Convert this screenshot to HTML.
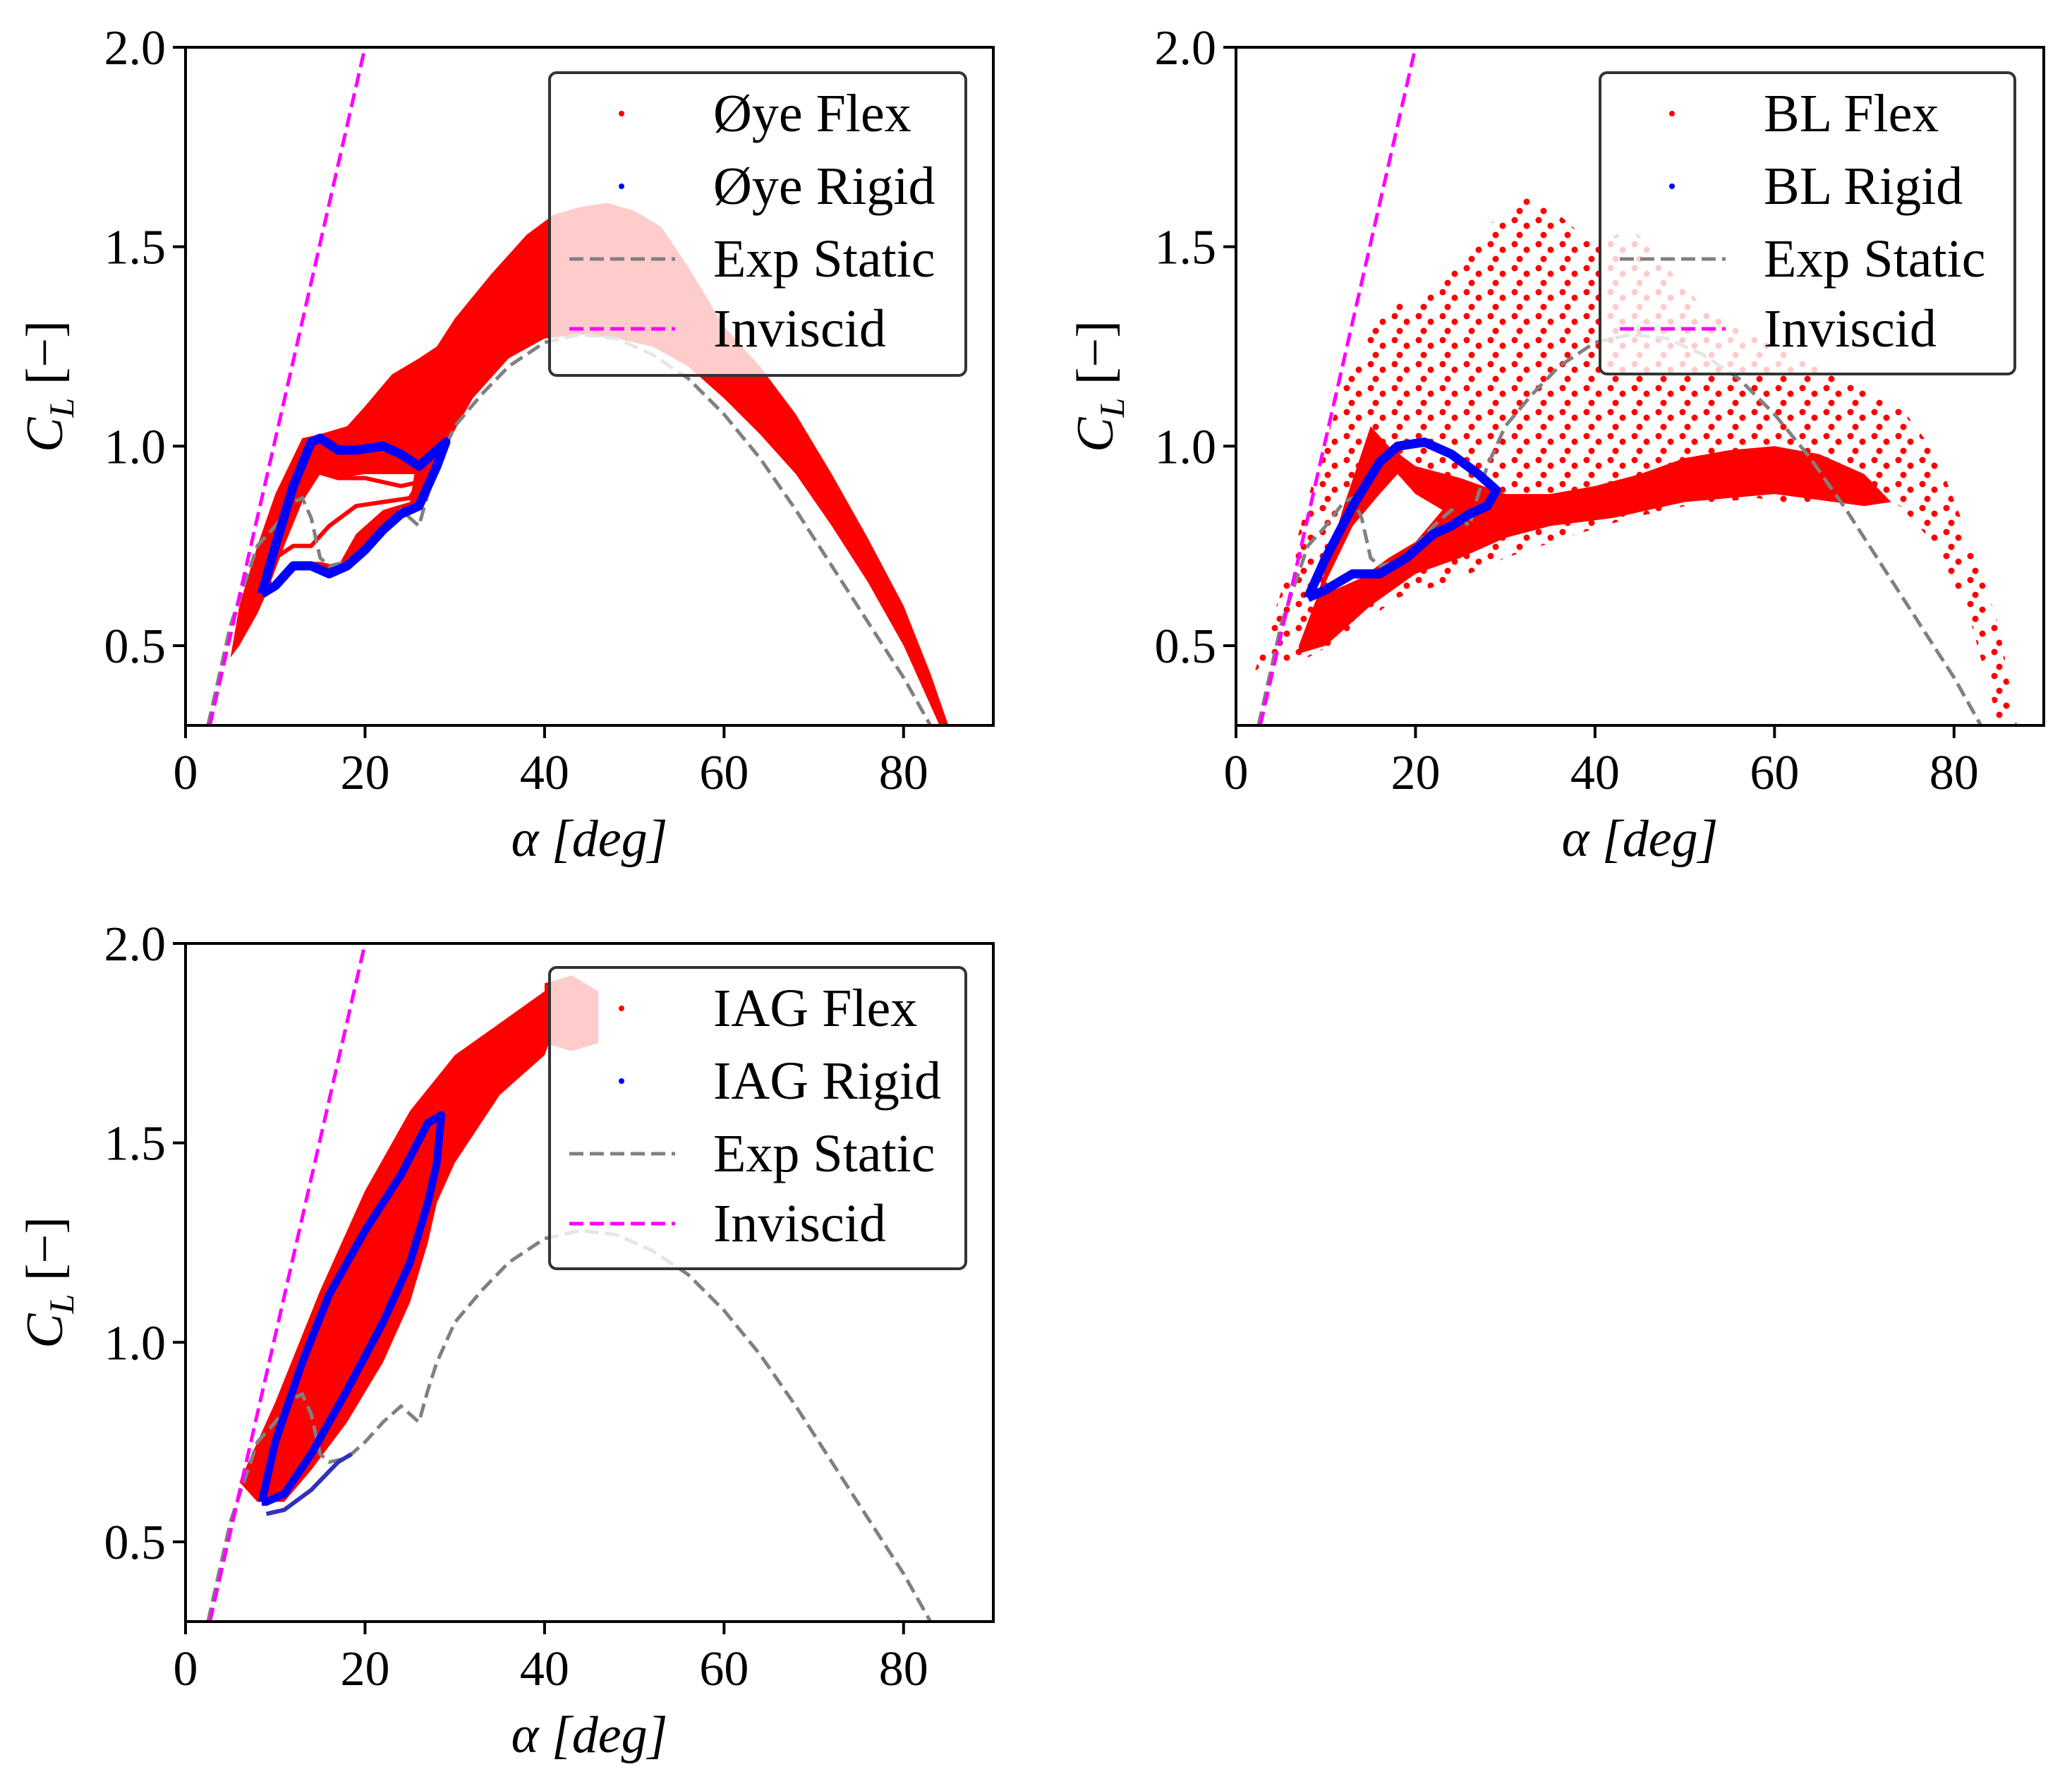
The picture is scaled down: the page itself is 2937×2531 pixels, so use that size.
<!DOCTYPE html>
<html><head><meta charset="utf-8"><style>
html,body{margin:0;padding:0;background:#fff}
svg{display:block}
text{font-family:"Liberation Serif","DejaVu Serif",serif;fill:#000}
</style></head><body>
<svg id="fig" width="2937" height="2531" viewBox="0 0 2937 2531" xmlns="http://www.w3.org/2000/svg">
<defs>
<pattern id="sparse" width="34" height="34" patternUnits="userSpaceOnUse">
<circle cx="5" cy="6" r="4.5" fill="#ff0000"/><circle cx="22" cy="14" r="4.5" fill="#ff0000"/><circle cx="12" cy="27" r="4.5" fill="#ff0000"/>
</pattern>
</defs>
</svg>
<script>
// ---------- shared data ----------
const xTicks=[0,20,40,60,80];
const yTicks=[0.5,1.0,1.5,2.0];
const yTickLabels=["0.5","1.0","1.5","2.0"];
const expAlpha=[2.5,5,8,10,12,13,14,15,16,18,20,22,24,26,27,28,30,33,36,40,44,48,52,56,60,64,68,72,76,80,83];
const expCL=[0.3,0.55,0.75,0.8,0.86,0.87,0.82,0.72,0.7,0.71,0.75,0.8,0.84,0.8,0.88,0.95,1.05,1.13,1.2,1.26,1.28,1.27,1.23,1.17,1.08,0.97,0.84,0.7,0.56,0.42,0.3];
const invAlpha=[2.7,20];
const invCL=[0.3,2.0];
// Oye
const oyeFlexAlpha=[5,6,8,10,13,15,18,20,23,26,28,30,34,38,41,44,47,50,53,56,60,64,68,72,76,80,83,85,84,80,76,72,68,64,60,56,52,48,44,40,36,32,29,27,25,22,19,16,13,10,8,6];
const oyeFlexCL=[0.47,0.6,0.75,0.88,1.02,1.03,1.05,1.1,1.18,1.22,1.25,1.32,1.43,1.53,1.58,1.6,1.61,1.59,1.55,1.45,1.3,1.2,1.08,0.93,0.77,0.6,0.43,0.3,0.3,0.5,0.66,0.8,0.93,1.03,1.12,1.2,1.25,1.27,1.28,1.27,1.22,1.12,1.0,0.88,0.84,0.8,0.72,0.68,0.7,0.68,0.58,0.5];
const oyeHoleAlpha=[9.5,11,13,15,17,20,23,25.5,25,22,19,17,15,13,11];
const oyeHoleCL=[0.66,0.75,0.86,0.93,0.92,0.93,0.93,0.93,0.86,0.84,0.78,0.7,0.71,0.71,0.69];
const oyeInnerAlpha=[10,12,14,17,20,24,26,25,22,19,16,14,12,10];
const oyeInnerCL=[0.72,0.84,0.94,0.92,0.92,0.9,0.91,0.87,0.86,0.85,0.8,0.75,0.75,0.72];
const oyeRigidAlpha=[8.5,10,12,14,15,17,19,22,24,26,28,29,28,27,26,24,22,20,18,16,14,12,10,8.5];
const oyeRigidCL=[0.63,0.75,0.9,1.01,1.02,0.99,0.99,1.0,0.98,0.95,0.99,1.01,0.95,0.9,0.85,0.83,0.79,0.74,0.7,0.68,0.7,0.7,0.65,0.63];
// BL
const blSparseAlpha=[2,6,9,12,15,17,20,24,28,32,36,40,44,48,52,56,60,65,70,74,78,82,85,87,85,82,78,74,70,64,58,50,44,38,30,24,18,12,8,3];
const blSparseCL=[0.43,0.7,0.95,1.15,1.3,1.38,1.35,1.45,1.55,1.63,1.58,1.5,1.55,1.45,1.35,1.3,1.25,1.2,1.15,1.1,0.98,0.75,0.55,0.3,0.3,0.55,0.75,0.85,0.88,0.85,0.87,0.85,0.82,0.78,0.72,0.66,0.62,0.52,0.47,0.45];
const blDenseAlpha=[7,9,12,15,17,20,25,30,35,40,45,50,55,60,65,70,73,70,60,50,42,35,30,25,20,15,10,7];
const blDenseCL=[0.5,0.62,0.85,1.05,1.0,0.95,0.92,0.88,0.88,0.9,0.93,0.97,0.99,1.0,0.98,0.93,0.86,0.85,0.88,0.86,0.82,0.8,0.77,0.72,0.68,0.6,0.5,0.48];
const blHoleAlpha=[10,13,16,18,20,23,20,17,14,11];
const blHoleCL=[0.66,0.8,0.88,0.93,0.88,0.84,0.76,0.72,0.67,0.64];
const blRigidAlpha=[8,10,13,16,18,21,24,27,29,28,26,24,22,19,16,13,10,8];
const blRigidCL=[0.62,0.72,0.85,0.96,1.0,1.01,0.98,0.93,0.89,0.85,0.83,0.8,0.78,0.72,0.68,0.68,0.64,0.62];
// IAG
const iagFlexAlpha=[6,10,15,20,25,30,35,40,43,40,35,30,28,27,25,22,18,14,11,8];
const iagFlexCL=[0.65,0.85,1.13,1.38,1.58,1.72,1.8,1.88,1.9,1.72,1.62,1.45,1.35,1.25,1.1,0.95,0.8,0.68,0.6,0.6];
const iagBlobAlpha=[40,43,46,46,43,40];
const iagBlobCL=[1.9,1.92,1.88,1.75,1.73,1.75];
const iagRigidAlpha=[8.5,10,13,16,20,24,27,28.5,28,27,25,22,18,14,11,9,8.5];
const iagRigidCL=[0.6,0.75,0.95,1.12,1.28,1.42,1.55,1.57,1.45,1.35,1.2,1.05,0.88,0.72,0.62,0.6,0.6];
const iagTailAlpha=[9,11,14,17,18.5];
const iagTailCL=[0.57,0.58,0.63,0.7,0.72];

const NS="http://www.w3.org/2000/svg";
const svg=document.getElementById('fig');
function mk(tag,attrs,parent){const e=document.createElementNS(NS,tag);for(const k in attrs)e.setAttribute(k,attrs[k]);(parent||svg).appendChild(e);return e;}

function panel(id,L,T){
  const W=1145,H=961;
  const sx=a=>L+a*(W/90);
  const sy=c=>T+H-(c-0.3)*(H/1.7);
  const g=mk('g',{});
  
  
  const pts=(A,C)=>A.map((a,i)=>sx(a).toFixed(1)+','+sy(C[i]).toFixed(1)).join(' ');
  const clipId=id+'clip';
  const cp=mk('clipPath',{id:clipId},g);mk('rect',{x:L,y:T,width:W,height:H},cp);
  const plot=mk('g',{'clip-path':'url(#'+clipId+')'},g);
  return {g,plot,sx,sy,pts,L,T,W,H};
}
function axes(P){
  const {g,sx,sy,L,T,W,H}=P;
  xTicks.forEach(v=>{
    const t=mk('line',{x1:sx(v),x2:sx(v),y1:T+H,y2:T+H+18,stroke:'#000','stroke-width':4},g);
    
    const l=mk('text',{x:sx(v),y:T+H+90,'font-size':70,'text-anchor':'middle'},g);l.textContent=String(v);
    
  });
  yTicks.forEach((v,i)=>{
    const t=mk('line',{x1:L-18,x2:L,y1:sy(v),y2:sy(v),stroke:'#000','stroke-width':4},g);
    
    const l=mk('text',{x:L-28,y:sy(v)+24,'font-size':70,'text-anchor':'end'},g);l.textContent=yTickLabels[i];
    
  });
  const fr=mk('rect',{x:L,y:T,width:W,height:H,fill:'none',stroke:'#000','stroke-width':4},g);
  
  const xl=mk('text',{x:L+W/2,y:T+H+185,'font-size':74,'text-anchor':'middle','font-style':'italic'},g);
  xl.textContent='α [deg]';
  
  const yl=mk('text',{x:0,y:0,'font-size':74,'text-anchor':'middle',transform:'translate('+(L-175)+','+(T+H/2)+') rotate(-90)'},g);
  yl.innerHTML='<tspan font-style="italic">C</tspan><tspan font-style="italic" font-size="50" dy="16">L</tspan><tspan dy="-16"> [−]</tspan>';
  
}
function curves(P){
  const e=mk('polyline',{points:P.pts(expAlpha,expCL),fill:'none',stroke:'#808080','stroke-width':5,'stroke-dasharray':'20,9'},P.plot);
  
  const v=mk('polyline',{points:P.pts(invAlpha,invCL),fill:'none',stroke:'#ff00ff','stroke-width':5,'stroke-dasharray':'20,9'},P.plot);
  
}
function poly(P,A,C,fill,name){
  const p=mk('polygon',{points:P.pts(A,C),fill:fill},P.plot);
  return p;
}
function line(P,A,C,stroke,w,name){
  const p=mk('polyline',{points:P.pts(A,C),fill:'none',stroke:stroke,'stroke-width':w,'stroke-linejoin':'round'},P.plot);
  return p;
}
function legend(P,x,y,w,h,labels){
  const lg=mk('g',{},P.g);
  
  mk('rect',{x:x,y:y,width:w,height:h,rx:10,fill:'#fff','fill-opacity':0.8,stroke:'#333','stroke-width':4},lg);
  const rows=[y+58,y+161,y+264,y+363];
  const kinds=[['dot','#ff0000'],['dot','#0000ff'],['line','#808080'],['line','#ff00ff']];
  rows.forEach((ry,i)=>{
    const ent=mk('g',{},lg);
    
    if(kinds[i][0]==='dot')mk('circle',{cx:x+102,cy:ry,r:4,fill:kinds[i][1]},ent);
    else mk('line',{x1:x+28,x2:x+178,y1:ry,y2:ry,stroke:kinds[i][1],'stroke-width':5,'stroke-dasharray':'20,9'},ent);
    const t=mk('text',{x:x+232,y:ry+25,'font-size':76},ent);t.textContent=labels[i];
  });
}

// Panel 1 Oye
const P1=panel('oye',263,67);
poly(P1,oyeFlexAlpha,oyeFlexCL,'#ff0000','oye-flex-cloud');
poly(P1,oyeHoleAlpha,oyeHoleCL,'#ffffff','oye-flex-hole');
line(P1,oyeInnerAlpha,oyeInnerCL,'#ff0000',6,'oye-flex-inner-loop');
curves(P1);
line(P1,oyeRigidAlpha,oyeRigidCL,'#0000ff',13,'oye-rigid-loop');
axes(P1);
legend(P1,779,103,590,429,['Øye Flex','Øye Rigid','Exp Static','Inviscid']);

// Panel 2 BL
const P2=panel('bl',1752,67);
poly(P2,blSparseAlpha,blSparseCL,'url(#sparse)','bl-flex-sparse-cloud');
poly(P2,blDenseAlpha,blDenseCL,'#ff0000','bl-flex-dense-band');
poly(P2,blHoleAlpha,blHoleCL,'#ffffff','bl-flex-hole');
curves(P2);
line(P2,blRigidAlpha,blRigidCL,'#0000ff',13,'bl-rigid-loop');
axes(P2);
legend(P2,2268,103,588,427,['BL Flex','BL Rigid','Exp Static','Inviscid']);

// Panel 3 IAG
const P3=panel('iag',263,1337);
poly(P3,iagFlexAlpha,iagFlexCL,'#ff0000','iag-flex-cloud');
poly(P3,iagBlobAlpha,iagBlobCL,'#ff0000','iag-flex-blob');
curves(P3);
line(P3,iagRigidAlpha,iagRigidCL,'#0000ff',11,'iag-rigid-loop');
line(P3,iagTailAlpha,iagTailCL,'#3030c0',6,'iag-rigid-tail');
axes(P3);
legend(P3,779,1371,590,427,['IAG Flex','IAG Rigid','Exp Static','Inviscid']);
</script>
</body></html>
